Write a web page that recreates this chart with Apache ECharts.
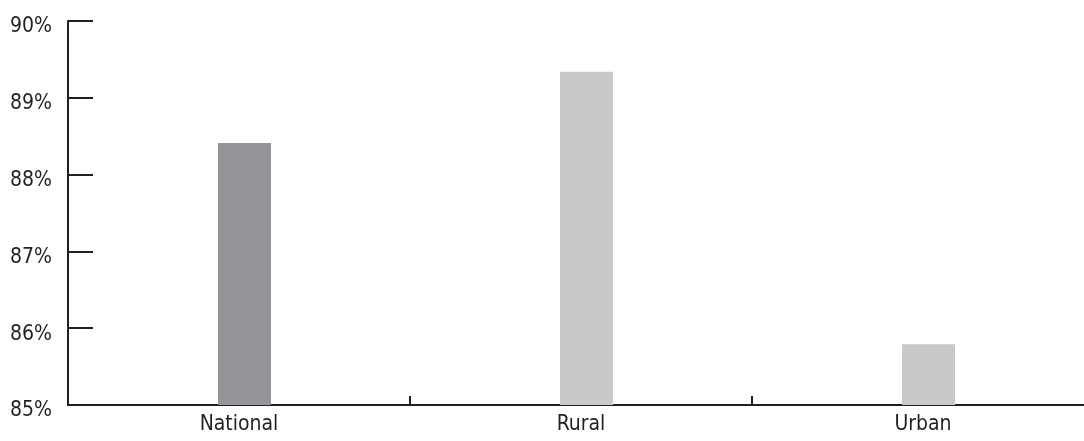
<!DOCTYPE html>
<html><head><meta charset="utf-8">
<script src="https://cdn.jsdelivr.net/npm/echarts@6/dist/echarts.min.js"></script>
<style>html,body{margin:0;padding:0;background:#fff}#c{width:1084px;height:441px}</style>
</head><body><div id="c"></div>
<script>
const categories = ['National', 'Rural', 'Urban'];
const values = [88.41, 89.34, 85.79];
const barColors = ['#939598', '#c8c9ca', '#c8c9ca'];
const yMin = 85, yMax = 90, yStep = 1;

const FONT = '"DejaVu Sans Condensed", sans-serif';
const INK = '#231f20';
const W = 1084, L0 = 68, L1 = 73.5, BAND = 342;
const chart = echarts.init(document.getElementById('c'));
chart.setOption({
  animation: false,
  grid: [
    {left: L0, top: 21, bottom: 36, right: 0},
    {left: L1, top: 21, bottom: 36, right: 0}
  ],
  xAxis: [
    {type: 'value', gridIndex: 0, min: -0.5, max: (W - L0) / BAND - 0.5,
     splitLine: {show: false},
     axisLine: {show: true, onZero: false, lineStyle: {color: INK, width: 2}},
     axisTick: {show: true, inside: true, length: 9, customValues: [0.5, 1.5], lineStyle: {color: INK, width: 2}},
     axisLabel: {color: INK, fontFamily: FONT, fontSize: 21, margin: 9, customValues: [0, 1, 2],
                 formatter: v => categories[Math.round(v)] || ''}},
    {type: 'value', gridIndex: 1, min: -0.5, max: (W - L1) / BAND - 0.5, show: false, splitLine: {show: false}}
  ],
  yAxis: [
    {type: 'value', gridIndex: 0, min: yMin, max: yMax, interval: yStep,
     axisLine: {show: true, onZero: false, lineStyle: {color: INK, width: 2}},
     axisTick: {show: true, inside: true, length: 25, lineStyle: {color: INK, width: 2}},
     splitLine: {show: false},
     axisLabel: {color: INK, fontFamily: FONT, fontSize: 21, margin: 16, verticalAlign: 'top', lineHeight: 12,
                 formatter: '{value}%'}},
    {type: 'value', gridIndex: 1, min: yMin, max: yMax, interval: yStep, show: false, splitLine: {show: false}}
  ],
  series: [{
    type: 'bar', xAxisIndex: 1, yAxisIndex: 1, barWidth: 53, z: 1,
    data: values.map((v, i) => ({value: [i, v], itemStyle: {color: barColors[i]}}))
  }]
});
</script></body></html>
